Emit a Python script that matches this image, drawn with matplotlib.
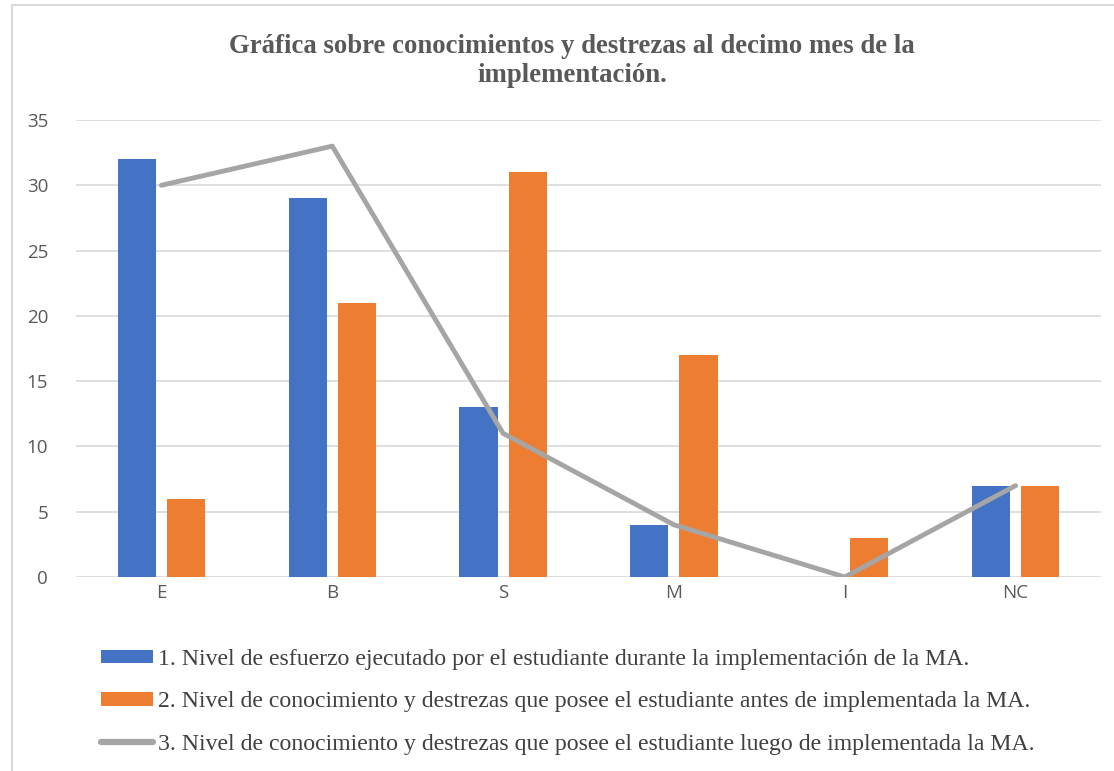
import matplotlib.pyplot as plt
import numpy as np
from matplotlib.patches import Rectangle, Patch
from matplotlib.lines import Line2D

categories = ["E", "B", "S", "M", "I", "NC"]
esfuerzo = [32, 29, 13, 4, 0, 7]
antes = [6, 21, 31, 17, 3, 7]
luego = [30, 33, 11, 4, 0, 7]

labels = [
    "1. Nivel de esfuerzo ejecutado por el estudiante durante la implementación de la MA.",
    "2. Nivel de conocimiento y destrezas que posee el estudiante antes de implementada la MA.",
    "3. Nivel de conocimiento y destrezas que posee el estudiante luego de implementada la MA.",
]
title = "Gráfica sobre conocimientos y destrezas al decimo mes de la\nimplementación."

BLUE = "#4472C4"
ORANGE = "#ED7D31"
GRAY = "#A5A5A5"
TXT = "#595959"

W, H = 1114, 771
fig = plt.figure(figsize=(W / 100, H / 100), dpi=100)
ax = fig.add_axes([76 / W, 1 - 577 / H, (1101 - 76) / W, (577 - 120) / H])

x = np.arange(len(categories))
bw = 0.223
off = 0.144
ax.bar(x - off, esfuerzo, bw, color=BLUE, zorder=2)
ax.bar(x + off, antes, bw, color=ORANGE, zorder=2)
ax.plot(x, luego, color=GRAY, lw=3.5, solid_capstyle="round", zorder=3)

ax.set_xlim(-0.5, len(categories) - 0.5)
ax.set_ylim(0, 35)
ax.set_yticks(range(0, 36, 5))
ax.set_xticks(x)
ax.set_xticklabels(categories)
ax.yaxis.grid(True, color="#D9D9D9", lw=1.2, zorder=0)
ax.set_axisbelow(True)
for s in ax.spines.values():
    s.set_visible(False)
ax.tick_params(length=0, labelsize=13.5, labelcolor=TXT)
ax.tick_params(axis="y", pad=20)
ax.tick_params(axis="x", pad=5)
for t in ax.get_xticklabels() + ax.get_yticklabels():
    t.set_fontfamily("Open Sans")

fig.text(572 / W, 1 - 61 / H, title, ha="center", va="center", fontsize=19.3,
         fontweight="bold", family="Liberation Serif", color=TXT, linespacing=1.2)

# outer chart frame
fig.patches.append(Rectangle((12 / W, -0.1), 1.2, 1 - 5 / H + 0.1, transform=fig.transFigure,
                             fill=False, edgecolor="#D9D9D9", lw=1.5))

handles = [
    Patch(facecolor=BLUE),
    Patch(facecolor=ORANGE),
    Line2D([0], [0], color=GRAY, lw=4.5, solid_capstyle="round"),
]
fig.legend(handles, labels, loc="upper left", bbox_to_anchor=(101 / W, 1 - 649 / H),
           frameon=False, prop={"family": "Liberation Serif", "size": 17.15},
           labelcolor="#404040", handlelength=2.18, handleheight=0.5,
           handletextpad=0.2, labelspacing=0.9, borderpad=0, borderaxespad=0)

fig.savefig("out.png", dpi=100)
